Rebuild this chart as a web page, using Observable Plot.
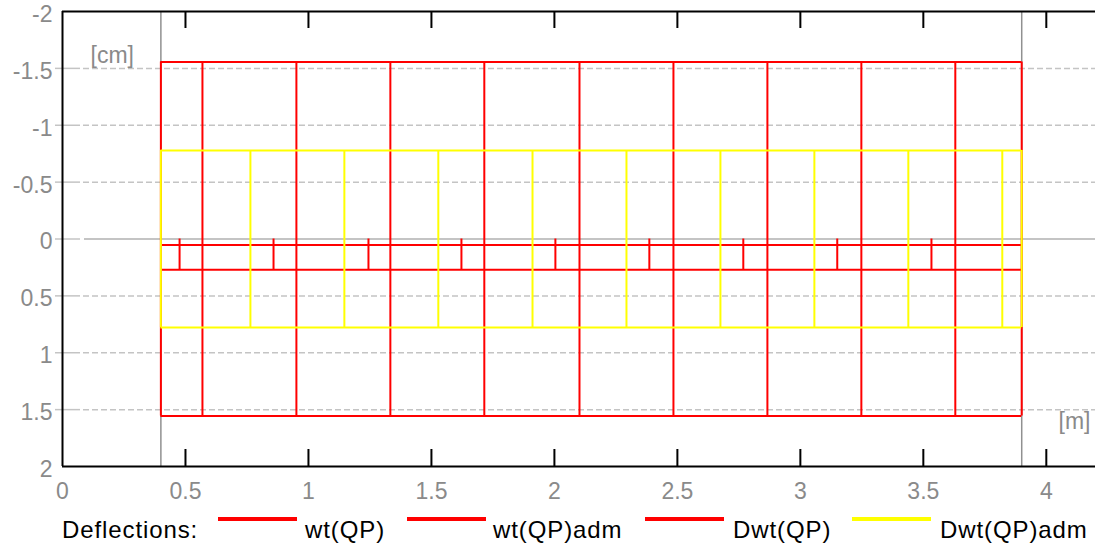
<!DOCTYPE html>
<html>
<head>
<meta charset="utf-8">
<script src="https://cdn.jsdelivr.net/npm/d3@7"></script>
<script src="https://cdn.jsdelivr.net/npm/@observablehq/plot@0.6"></script>
<style>
  html, body { margin: 0; padding: 0; background: #fff; }
  #wrap { position: relative; width: 1096px; height: 548px; font-family: "Liberation Sans", Arial, sans-serif; }
  #chart svg { display: block; }
  #legend { position: absolute; left: 0; top: 505px; width: 1096px; height: 43px; }
  .lg-text { position: absolute; top: 12px; font-size: 24px; letter-spacing: 0.9px; color: #000; line-height: 26px; white-space: nowrap; }
  .lg-sw { position: absolute; top: 12px; height: 4px; }
</style>
</head>
<body>
<div id="wrap">
  <div id="chart"></div>
  <div id="legend"></div>
</div>
<script>
// ---- data ----
const xTicks = [0, 0.5, 1, 1.5, 2, 2.5, 3, 3.5, 4];
const yTicks = [-2, -1.5, -1, -0.5, 0, 0.5, 1, 1.5, 2];
const yGrid = [-1.5, -1, -0.5, 0.5, 1, 1.5];
const supports = [0.4, 3.9];            // [m]
const wtAdmLimit = 1.556;               // wt(QP)adm  [cm]
const DwtAdmLimit = 0.778;              // Dwt(QP)adm [cm]
const wtValue = 0.27;                   // wt(QP)     [cm]
const DwtValue = 0.053;                 // Dwt(QP)    [cm]
const wtAdmHatch = [0.4, 0.569, 0.951, 1.333, 1.715, 2.102, 2.484, 2.866, 3.248, 3.630, 3.9];
const DwtAdmHatch = [0.4, 0.764, 1.146, 1.528, 1.911, 2.293, 2.675, 3.057, 3.439, 3.821, 3.9];
const wtHatch = [0.476, 0.858, 1.244, 1.622, 2.004, 2.386, 2.768, 3.150, 3.533];
const legendItems = [
  {label: "wt(QP)", color: "#ff0000"},
  {label: "wt(QP)adm", color: "#ff0000"},
  {label: "Dwt(QP)", color: "#ff0000"},
  {label: "Dwt(QP)adm", color: "#ffff00"}
];

const RED = "#ff0000", YEL = "#ffff00", GRID = "#c4c4c4", LBL = "#8a8a8a";
const FONT = 23;

const chart = Plot.plot({
  width: 1096,
  height: 505,
  marginTop: 11,
  marginBottom: 39,
  marginLeft: 62,
  marginRight: 1,
  style: {fontFamily: "'Liberation Sans', Arial, sans-serif", background: "#fff"},
  x: {domain: [0, 4.2], axis: null},
  y: {domain: [-2, 2], reverse: true, axis: null},
  marks: [
    // dashed grid
    Plot.ruleY(yGrid, {stroke: GRID, strokeWidth: 1.5, strokeDasharray: "6,3", insetLeft: 21}),
    // zero line
    Plot.ruleY([0], {stroke: GRID, strokeWidth: 2, insetLeft: 22}),
    // y tick marks (gray, short)
    Plot.ruleY(yGrid.concat([0]), {x1: 0, x2: 0, insetLeft: -7, insetRight: -18, stroke: GRID, strokeWidth: 1.5}),
    // supports
    Plot.ruleX(supports, {stroke: "#909090", strokeWidth: 1.5}),
    // wt(QP)adm envelope
    Plot.ruleY([-wtAdmLimit, wtAdmLimit], {x1: supports[0], x2: supports[1], stroke: RED, strokeWidth: 2}),
    Plot.ruleX(wtAdmHatch, {y1: -wtAdmLimit, y2: wtAdmLimit, stroke: RED, strokeWidth: 2}),
    // wt(QP) and Dwt(QP)
    Plot.ruleY([DwtValue, wtValue], {x1: supports[0], x2: supports[1], stroke: RED, strokeWidth: 2}),
    Plot.ruleX(wtHatch, {y1: 0, y2: wtValue, stroke: RED, strokeWidth: 2}),
    // Dwt(QP)adm envelope
    Plot.ruleY([-DwtAdmLimit, DwtAdmLimit], {x1: supports[0], x2: supports[1], stroke: YEL, strokeWidth: 2}),
    Plot.ruleX(DwtAdmHatch, {y1: -DwtAdmLimit, y2: DwtAdmLimit, stroke: YEL, strokeWidth: 2}),
    // frame: top, bottom, left
    Plot.ruleY([-2, 2], {stroke: "#000", strokeWidth: 2}),
    Plot.ruleX([0], {stroke: "#000", strokeWidth: 2}),
    // x ticks inward, top and bottom
    Plot.ruleX(xTicks.filter(d => d > 0), {y1: -2, y2: -2, insetBottom: -17, stroke: "#000", strokeWidth: 2}),
    Plot.ruleX(xTicks.filter(d => d > 0), {y1: 2, y2: 2, insetTop: -17, stroke: "#000", strokeWidth: 2}),
    // tick labels
    Plot.text(yTicks, {x: 0, y: d => d, text: d => String(d), textAnchor: "end", dx: -10, dy: 3, fill: LBL, fontSize: FONT}),
    Plot.text(xTicks, {x: d => d, y: 2, text: d => String(d), dy: 25, fill: LBL, fontSize: FONT}),
    // units
    Plot.text(["[cm]"], {frameAnchor: "top-left", dx: 28, dy: 35, textAnchor: "start", fill: LBL, fontSize: FONT}),
    Plot.text(["[m]"], {frameAnchor: "bottom-right", dx: -5, dy: -38, textAnchor: "end", fill: LBL, fontSize: FONT})
  ]
});
document.getElementById("chart").appendChild(chart);

// legend (HTML below the svg)
const legend = document.getElementById("legend");
const swatchX = [218, 407, 645, 852];
const textX = [305, 493, 733, 940];
const title = document.createElement("div");
title.className = "lg-text";
title.style.left = "62px";
title.textContent = "Deflections:";
legend.appendChild(title);
legendItems.forEach((it, i) => {
  const sw = document.createElement("div");
  sw.className = "lg-sw";
  sw.style.left = swatchX[i] + "px";
  sw.style.width = "79px";
  sw.style.background = it.color;
  legend.appendChild(sw);
  const t = document.createElement("div");
  t.className = "lg-text";
  t.style.left = textX[i] + "px";
  t.textContent = it.label;
  legend.appendChild(t);
});
</script>
</body>
</html>
